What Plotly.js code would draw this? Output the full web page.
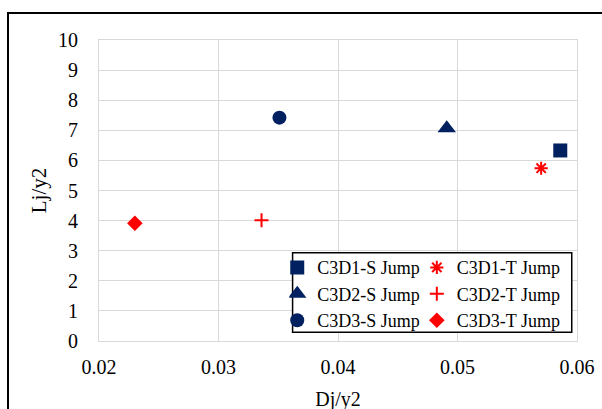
<!DOCTYPE html>
<html>
<head>
<meta charset="utf-8">
<script src="https://cdn.plot.ly/plotly-3.0.1.min.js"></script>
<style>
html,body{margin:0;padding:0;background:#fff;}
#wrap{position:relative;width:602px;height:409px;overflow:hidden;}
#chart{position:absolute;left:0;top:0;width:602px;height:418px;}
#frame{position:absolute;left:7px;top:12px;width:700px;height:600px;border-left:2px solid #000;border-top:2px solid #000;pointer-events:none;}
</style>
</head>
<body>
<div id="wrap"><div id="chart"></div><div id="frame"></div></div>
<script>
// Series data (x = Dj/y2, y = Lj/y2)
var seriesNames = ["C3D1-S Jump", "C3D2-S Jump", "C3D3-S Jump", "C3D1-T Jump", "C3D2-T Jump", "C3D3-T Jump"];
var c3d1S_x = [0.0586]; var c3d1S_y = [6.33];
var c3d2S_x = [0.0491]; var c3d2S_y = [7.07];
var c3d3S_x = [0.0351]; var c3d3S_y = [7.42];
var c3d1T_x = [0.0570]; var c3d1T_y = [5.74];
var c3d2T_x = [0.0336]; var c3d2T_y = [4.01];
var c3d3T_x = [0.0230]; var c3d3T_y = [3.91];
var xTicks = [0.02, 0.03, 0.04, 0.05, 0.06];
var xTickText = ["0.02", "0.03", "0.04", "0.05", "0.06"];
var yTicks = [0, 1, 2, 3, 4, 5, 6, 7, 8, 9, 10];

var NAVY = "#002060", RED = "#ff0000";
var FONT = "'Liberation Serif', 'Times New Roman', serif";

function tr(name, xs, ys, symbol, size, color, leg, lineW) {
  var m = {symbol: symbol, size: size, color: color};
  if (lineW) { m.line = {color: color, width: lineW}; } else { m.line = {width: 0}; }
  return {type: "scatter", mode: "markers", name: name, x: xs, y: ys, marker: m, legend: leg, cliponaxis: false};
}

var data = [
  tr(seriesNames[0], c3d1S_x, c3d1S_y, "square", 14, NAVY, "legend"),
  tr(seriesNames[1], c3d2S_x, c3d2S_y, "triangle-up", 16, NAVY, "legend"),
  tr(seriesNames[2], c3d3S_x, c3d3S_y, "circle", 14, NAVY, "legend"),
  tr(seriesNames[3], c3d1T_x, c3d1T_y, "asterisk-open", 11, RED, "legend2", 2),
  tr(seriesNames[4], c3d2T_x, c3d2T_y, "cross-thin-open", 10, RED, "legend2", 2),
  tr(seriesNames[5], c3d3T_x, c3d3T_y, "diamond", 12, RED, "legend2")
];

var legCommon = {
  orientation: "v", xanchor: "left", yanchor: "top",
  bgcolor: "rgba(0,0,0,0)", borderwidth: 0, indentation: -12,
  font: {family: FONT, size: 18, color: "#000"},
  tracegroupgap: 0, itemclick: false
};

var layout = {
  width: 602, height: 418,
  margin: {l: 99, r: 25, t: 40, b: 77},
  paper_bgcolor: "#fff", plot_bgcolor: "#fff",
  font: {family: FONT, size: 20, color: "#000"},
  showlegend: true,
  xaxis: {
    range: [0.02, 0.06], tickvals: xTicks, ticktext: xTickText,
    showgrid: true, gridcolor: "#d9d9d9", gridwidth: 1,
    showline: true, linecolor: "#d9d9d9", linewidth: 1, mirror: true,
    zeroline: false, ticks: "", ticklabelstandoff: 8,
    tickfont: {family: FONT, size: 20, color: "#000"},
    title: {text: "Dj/y2", font: {family: FONT, size: 20, color: "#000"}, standoff: 14}
  },
  yaxis: {
    range: [0, 10], tickvals: yTicks,
    showgrid: true, gridcolor: "#d9d9d9", gridwidth: 1,
    showline: true, linecolor: "#d9d9d9", linewidth: 1, mirror: true,
    zeroline: false, ticks: "", ticklabelstandoff: 16,
    tickfont: {family: FONT, size: 20, color: "#000"},
    title: {text: "Lj/y2", font: {family: FONT, size: 21, color: "#000"}, standoff: 5}
  },
  legend: Object.assign({}, legCommon, {x: 0.398, y: 0.305}),
  legend2: Object.assign({}, legCommon, {x: 0.690, y: 0.305}),
  shapes: [{
    type: "rect", xref: "paper", yref: "paper", layer: "above",
    x0: 0.405, x1: 0.989, y0: 0.029, y1: 0.293,
    line: {color: "#000", width: 1.5}, fillcolor: "#fff"
  }]
};

Plotly.newPlot("chart", data, layout, {displayModeBar: false, staticPlot: true});
</script>
</body>
</html>
